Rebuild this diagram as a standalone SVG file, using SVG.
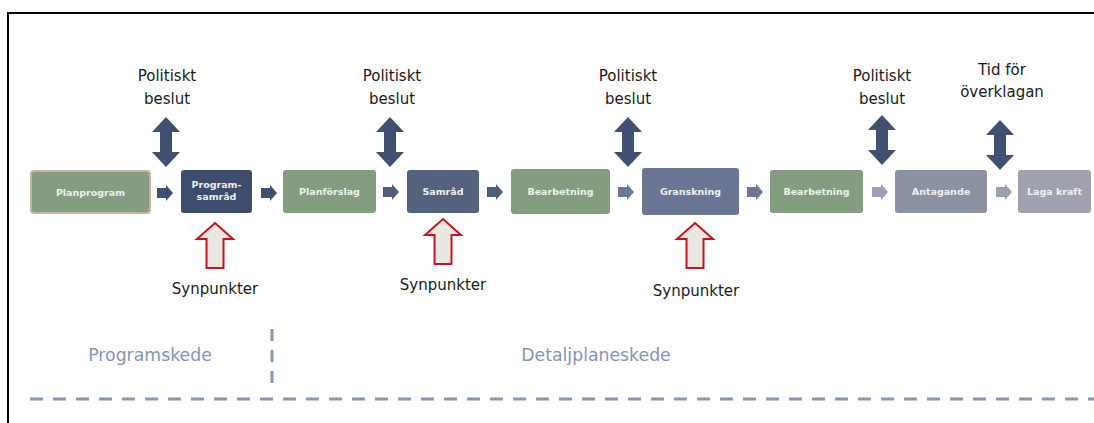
<svg xmlns="http://www.w3.org/2000/svg" width="1094" height="423" viewBox="0 0 1094 423">
<style>
.lbl{font-family:"DejaVu Sans",Verdana,sans-serif;font-size:15px;fill:#1a1a1a;text-anchor:middle}
.box{font-family:"DejaVu Sans",Verdana,sans-serif;font-size:9.5px;font-weight:bold;fill:#eef0ec;text-anchor:middle}
.phase{font-family:"DejaVu Sans",Verdana,sans-serif;font-size:17.3px;fill:#8593b8;text-anchor:middle}
.green{fill:#849d80}
.dash{stroke:#8896b8;stroke-width:3;fill:none}
.syn{fill:#e9e7e1;stroke:#c8141c;stroke-width:2;stroke-linejoin:miter}
.dbl{fill:#3f5070}
</style>
<defs>
<path id="dbl" d="M0,-25 L14,-10 L6,-10 L6,10 L14,10 L0,25 L-14,10 L-6,10 L-6,-10 L-14,-10 Z"/>
<path id="up" d="M0,0 L18,16 L8.5,16 L8.5,45 L-8.5,45 L-8.5,16 L-18,16 Z"/>
<path id="rt" d="M0,-5 L9,-5 L9,-8 L16,0 L9,8 L9,5 L0,5 Z"/>
</defs>
<rect width="1094" height="423" fill="#ffffff"/>
<path d="M8,423 L8,13 L1094,13" fill="none" stroke="#000" stroke-width="2"/>

<g id="connectors">
<use href="#rt" x="157" y="193" fill="#3f4f70"/>
<use href="#rt" x="261" y="193" fill="#3f4f70"/>
<use href="#rt" x="383" y="192" fill="#4f5c7c"/>
<use href="#rt" x="487" y="192" fill="#4f5c7c"/>
<use href="#rt" x="618" y="192" fill="#6c7795"/>
<use href="#rt" x="747" y="192" fill="#6c7795"/>
<use href="#rt" x="872" y="192" fill="#9ca1b1"/>
<use href="#rt" x="996" y="192" fill="#9ca1b1"/>
</g>

<g id="n-planprogram">
<rect x="31" y="171" width="119" height="42" rx="3" class="green" stroke="#c9b59d" stroke-width="2"/>
<text x="90.5" y="195.5" class="box">Planprogram</text>
</g>
<g id="n-programsamrad">
<rect x="181" y="170" width="71" height="43" rx="3" fill="#3e4d6e"/>
<text x="216.5" y="188" class="box">Program-</text>
<text x="216.5" y="200" class="box">samråd</text>
</g>
<g id="n-planforslag">
<rect x="283" y="170" width="93" height="43" rx="3" class="green"/>
<text x="329.5" y="195" class="box">Planförslag</text>
</g>
<g id="n-samrad">
<rect x="407" y="170" width="72" height="43" rx="3" fill="#55627f"/>
<text x="443" y="195" class="box">Samråd</text>
</g>
<g id="n-bearbetning1">
<rect x="511" y="169" width="99" height="45" rx="3" class="green"/>
<text x="560.5" y="195" class="box">Bearbetning</text>
</g>
<g id="n-granskning">
<rect x="642" y="168" width="97" height="47" rx="3" fill="#6b7694"/>
<text x="690.5" y="195" class="box">Granskning</text>
</g>
<g id="n-bearbetning2">
<rect x="770" y="170" width="93" height="43" rx="3" class="green"/>
<text x="816.5" y="195" class="box">Bearbetning</text>
</g>
<g id="n-antagande">
<rect x="895" y="170" width="92" height="43" rx="3" fill="#8d92a3"/>
<text x="941" y="195" class="box">Antagande</text>
</g>
<g id="n-lagakraft">
<rect x="1018" y="170" width="73" height="43" rx="3" fill="#a0a3af"/>
<text x="1054.5" y="195" class="box">Laga kraft</text>
</g>

<g id="n-beslut1">
<text x="167" y="81" class="lbl">Politiskt</text>
<text x="167" y="104" class="lbl">beslut</text>
<use href="#dbl" x="166" y="142" class="dbl"/>
</g>
<g id="n-beslut2">
<text x="392" y="81" class="lbl">Politiskt</text>
<text x="392" y="104" class="lbl">beslut</text>
<use href="#dbl" x="390" y="142" class="dbl"/>
</g>
<g id="n-beslut3">
<text x="628" y="81" class="lbl">Politiskt</text>
<text x="628" y="104" class="lbl">beslut</text>
<use href="#dbl" x="628" y="142" class="dbl"/>
</g>
<g id="n-beslut4">
<text x="882" y="81" class="lbl">Politiskt</text>
<text x="882" y="104" class="lbl">beslut</text>
<use href="#dbl" x="882" y="140" class="dbl"/>
</g>
<g id="n-overklagan">
<text x="1002" y="75" class="lbl">Tid för</text>
<text x="1002" y="97" class="lbl">överklagan</text>
<use href="#dbl" x="1000" y="145" class="dbl"/>
</g>

<g id="n-synpunkter1">
<use href="#up" x="215" y="223" class="syn"/>
<text x="215" y="294" class="lbl">Synpunkter</text>
</g>
<g id="n-synpunkter2">
<use href="#up" x="443" y="219" class="syn"/>
<text x="443" y="290" class="lbl">Synpunkter</text>
</g>
<g id="n-synpunkter3">
<use href="#up" x="695" y="223" class="syn"/>
<text x="696" y="296" class="lbl">Synpunkter</text>
</g>

<g id="phases">
<line x1="272" y1="329" x2="272" y2="389" class="dash" stroke-dasharray="12 9"/>
<line x1="30" y1="399" x2="1094" y2="399" class="dash" stroke-dasharray="13 10"/>
<text x="150" y="361" class="phase">Programskede</text>
<text x="596" y="361" class="phase">Detaljplaneskede</text>
</g>
</svg>
